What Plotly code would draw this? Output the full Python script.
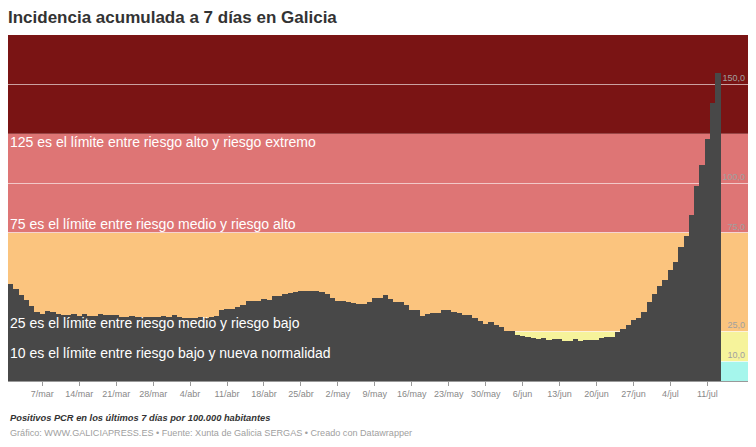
import plotly.graph_objects as go
import pandas as pd

# ---- data ----
fechas = pd.date_range("2021-03-01", "2021-07-13", freq="D")
incidencia = [
    49.2, 46.5, 43.7, 41.2, 38.1, 34.8, 33.9,
    35.6, 34.9, 33.9, 33.2, 33.6, 34.0, 33.1,
    33.9, 33.1, 33.1, 33.9, 33.6, 33.2, 33.2,
    32.4, 32.4, 33.0, 32.6, 32.4, 32.6, 32.2,
    32.5, 32.8, 32.3, 33.2, 32.4, 32.0, 32.1,
    31.8, 32.3, 31.9, 32.4, 32.8, 35.8, 36.2,
    36.4, 37.4, 38.6, 40.3, 40.6, 40.6, 41.5,
    40.8, 43.0, 43.2, 44.2, 44.4, 45.2, 45.4,
    45.6, 45.4, 45.7, 44.8, 44.2, 42.0, 40.3,
    40.3, 40.0, 39.5, 39.0, 39.0, 39.8, 42.0,
    42.0, 43.7, 41.5, 40.2, 39.8, 38.3, 36.1,
    36.1, 32.7, 33.8, 34.3, 34.4, 35.8, 35.8,
    34.8, 34.6, 33.6, 33.2, 31.7, 30.1, 29.0,
    29.6, 28.3, 27.4, 25.3, 25.3, 23.3, 22.6,
    22.3, 21.8, 21.0, 21.5, 20.6, 21.0, 21.0,
    20.0, 20.0, 21.0, 20.3, 20.6, 20.6, 20.6,
    21.5, 22.1, 22.1, 24.8, 26.4, 28.2, 30.7,
    32.1, 34.8, 40.0, 44.0, 47.9, 51.3, 56.0,
    60.0, 67.8, 73.3, 83.9, 98.4, 109.5, 122.3,
    140.5, 155.6,
]

tick_fechas = ["2021-03-07", "2021-03-14", "2021-03-21", "2021-03-28", "2021-04-04",
               "2021-04-11", "2021-04-18", "2021-04-25", "2021-05-02", "2021-05-09",
               "2021-05-16", "2021-05-23", "2021-05-30", "2021-06-06", "2021-06-13",
               "2021-06-20", "2021-06-27", "2021-07-04", "2021-07-11"]
tick_textos = ["7/mar", "14/mar", "21/mar", "28/mar", "4/abr", "11/abr", "18/abr",
               "25/abr", "2/may", "9/may", "16/may", "23/may", "30/may", "6/jun",
               "13/jun", "20/jun", "27/jun", "4/jul", "11/jul"]

y_ticks = [10, 25, 75, 100, 150]
y_ticktext = ["10,0", "25,0", "75,0", "100,0", "150,0"]

bandas_lim = [0, 10, 25, 75, 125, 175]
bandas_col = ["#a5f6ec", "#f6f39b", "#fbc47e", "#de7575", "#7a1414"]

textos_limite = [
    "125 es el límite entre riesgo alto y riesgo extremo",
    "75 es el límite entre riesgo medio y riesgo alto",
    "25 es el límite entre riesgo medio y riesgo bajo",
    "10 es el límite entre riesgo bajo y nueva normalidad",
]
textos_y = [121.0, 79.5, 29.5, 14.4]

FONT = "Liberation Sans, Arial, sans-serif"

fig = go.Figure()
fig.add_trace(go.Bar(
    x=fechas, y=incidencia,
    marker=dict(color="#484848", line=dict(width=0)),
    hoverinfo="skip",
))

for i in range(len(bandas_col)):
    fig.add_shape(type="rect", xref="paper", yref="y", x0=0, x1=1,
                  y0=bandas_lim[i], y1=bandas_lim[i + 1],
                  fillcolor=bandas_col[i], line=dict(width=0), layer="below")

for t, yv in zip(textos_limite, textos_y):
    fig.add_annotation(text=t, xref="paper", yref="y", x=0, y=yv,
                       xanchor="left", yanchor="middle", showarrow=False,
                       font=dict(family=FONT, size=14, color="#ffffff"))

fig.add_annotation(text="<b><i>Positivos PCR en los últimos 7 días por 100.000 habitantes</i></b>",
                   xref="paper", yref="paper", x=0, y=-0.107, xanchor="left", yanchor="middle",
                   showarrow=False, font=dict(family=FONT, size=9.3, color="#333333"))
fig.add_annotation(text="Gráfico: WWW.GALICIAPRESS.ES • Fuente: Xunta de Galicia SERGAS • Creado con Datawrapper",
                   xref="paper", yref="paper", x=0, y=-0.150, xanchor="left", yanchor="middle",
                   showarrow=False, font=dict(family=FONT, size=9.1, color="#a0a0a0"))

fig.update_layout(
    width=756, height=447,
    margin=dict(l=8, r=8, t=35, b=66),
    paper_bgcolor="white", plot_bgcolor="white",
    bargap=0, showlegend=False,
    title=dict(text="<b>Incidencia acumulada a 7 días en Galicia</b>",
               x=8 / 756, xanchor="left", xref="container",
               y=1 - 17 / 447, yanchor="middle", yref="container",
               font=dict(family=FONT, size=17, color="#333333")),
    font=dict(family=FONT),
    xaxis=dict(
        type="date", range=["2021-02-28 12:00", "2021-07-18 17:00"],
        tickvals=tick_fechas, ticktext=tick_textos,
        ticks="outside", ticklen=4, tickcolor="#999999",
        tickfont=dict(family=FONT, size=9, color="#888888"),
        showgrid=False, showline=True, linecolor="#999999", linewidth=1,
        zeroline=False, fixedrange=True,
    ),
    yaxis=dict(
        range=[0, 175], side="right",
        tickvals=y_ticks, ticktext=y_ticktext,
        ticklabelposition="inside top",
        tickfont=dict(family=FONT, size=9, color="#a0a0a0"),
        showgrid=True, gridcolor="rgba(255,255,255,0.6)", gridwidth=1,
        zeroline=False, showline=False, ticks="", fixedrange=True,
    ),
)

fig.write_html("out.html", config={"displayModeBar": False},
               post_script="document.body.style.margin='0';document.body.style.overflow='hidden';")
